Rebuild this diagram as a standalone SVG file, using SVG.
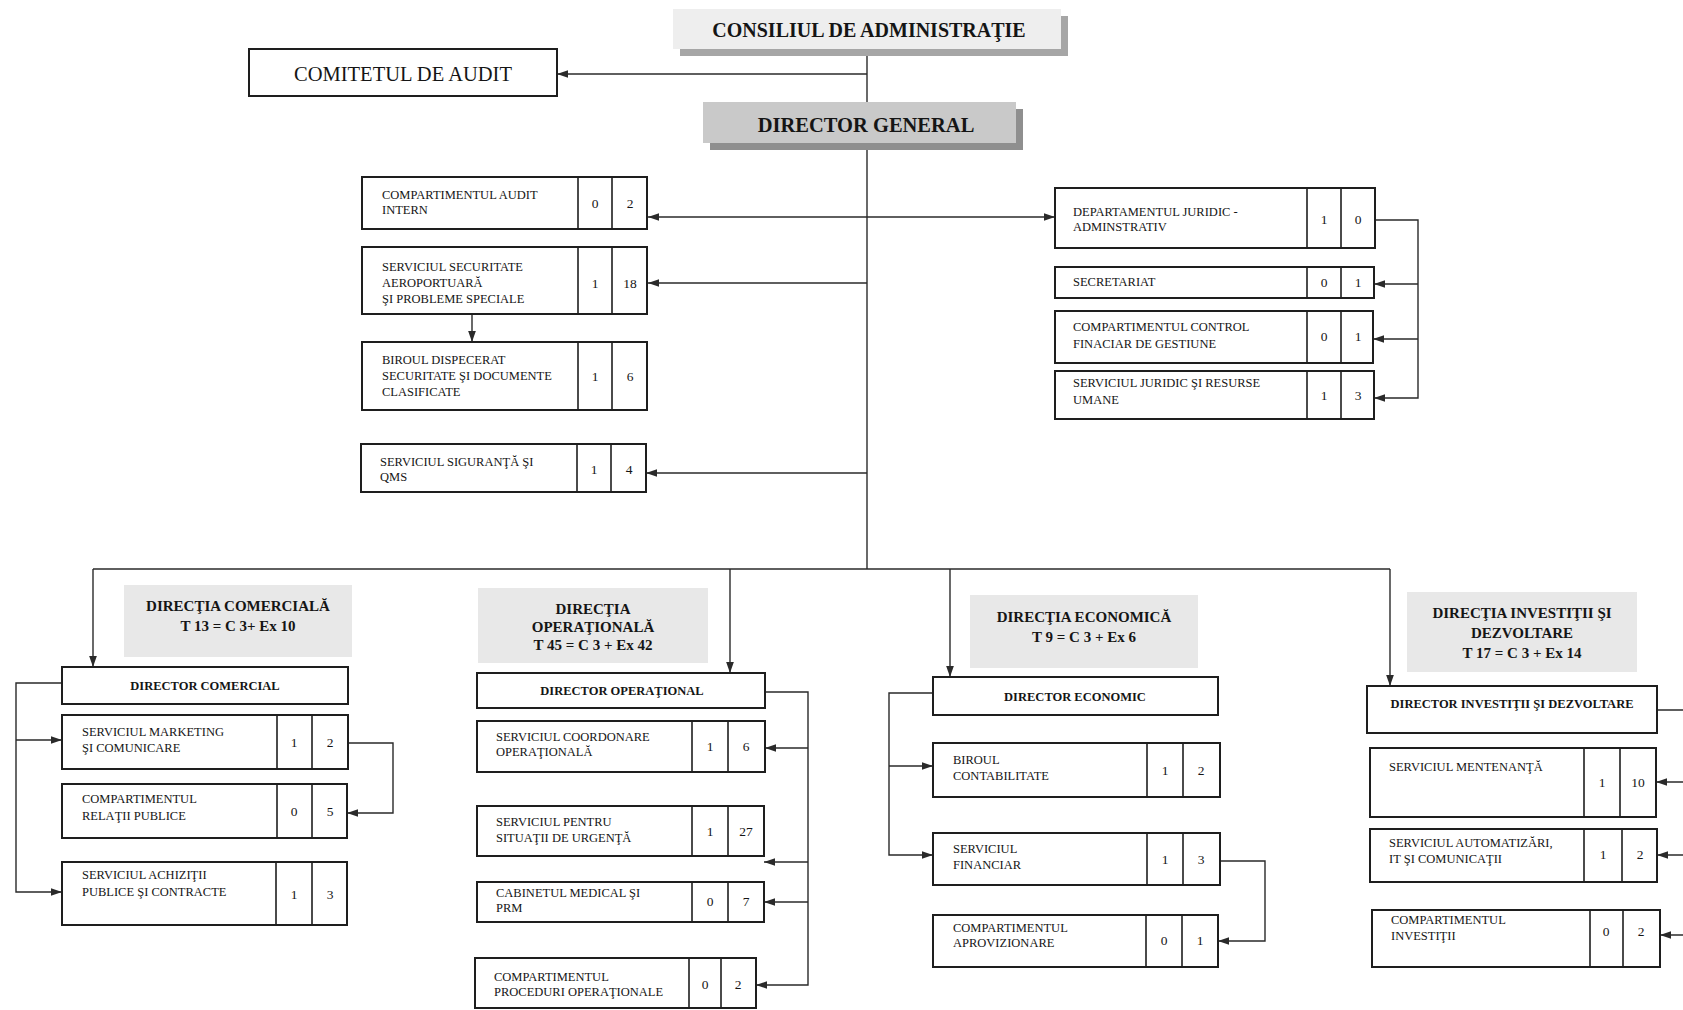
<svg xmlns="http://www.w3.org/2000/svg" width="1683" height="1010" viewBox="0 0 1683 1010">
<style>
.bg{fill:#ffffff}
.box{fill:#ffffff;stroke:#1e1e1e;stroke-width:2}
.div{stroke:#1e1e1e;stroke-width:1.6}
.hd{fill:#e8e8e8}
.t{font-family:"Liberation Serif","Times New Roman",serif;font-size:12.5px;fill:#151515}
.n{font-family:"Liberation Serif","Times New Roman",serif;font-size:13.5px;fill:#151515;text-anchor:middle}
.b{font-weight:bold;text-anchor:middle}
.h{font-family:"Liberation Serif","Times New Roman",serif;font-size:15px;font-weight:bold;fill:#151515;text-anchor:middle}
.c{fill:none;stroke:#2a2a2a;stroke-width:1.4}
</style>
<defs>
<marker id="ah" viewBox="0 0 10 10" refX="10" refY="5" markerWidth="11" markerHeight="11" markerUnits="userSpaceOnUse" orient="auto-start-reverse">
<path d="M0,1.5 L10,5 L0,8.5 z" fill="#2a2a2a"/>
</marker>
</defs>
<rect class="bg" x="0" y="0" width="1683" height="1010"/>

<g id="connectors">
<path class="c" d="M867,48 V102"/>
<path class="c" d="M867,74 H557" marker-end="url(#ah)"/>
<path class="c" d="M867,150 V569"/>
<path class="c" d="M648,217 H1055" marker-start="url(#ah)" marker-end="url(#ah)"/>
<path class="c" d="M867,283 H648" marker-end="url(#ah)"/>
<path class="c" d="M472,314 V342" marker-end="url(#ah)"/>
<path class="c" d="M867,473 H646" marker-end="url(#ah)"/>
<path class="c" d="M1375,220 H1418 V398 H1374" marker-end="url(#ah)"/>
<path class="c" d="M1418,284 H1374" marker-end="url(#ah)"/>
<path class="c" d="M1418,339 H1373" marker-end="url(#ah)"/>
<path class="c" d="M93,569 H1390"/>
<path class="c" d="M93,569 V667" marker-end="url(#ah)"/>
<path class="c" d="M730,569 V673" marker-end="url(#ah)"/>
<path class="c" d="M950,569 V677" marker-end="url(#ah)"/>
<path class="c" d="M1390,569 V686" marker-end="url(#ah)"/>
<path class="c" d="M62,683 H16 V892 H62" marker-end="url(#ah)"/>
<path class="c" d="M16,740 H62" marker-end="url(#ah)"/>
<path class="c" d="M348,743 H393 V813 H347" marker-end="url(#ah)"/>
<path class="c" d="M765,692 H808 V985 H756" marker-end="url(#ah)"/>
<path class="c" d="M808,748 H765" marker-end="url(#ah)"/>
<path class="c" d="M808,862 H764" marker-end="url(#ah)"/>
<path class="c" d="M808,902 H764" marker-end="url(#ah)"/>
<path class="c" d="M933,693 H889 V855 H933" marker-end="url(#ah)"/>
<path class="c" d="M889,766 H933" marker-end="url(#ah)"/>
<path class="c" d="M1220,861 H1265 V941 H1218" marker-end="url(#ah)"/>
<path class="c" d="M1657,710 H1700 V935"/>
<path class="c" d="M1700,782 H1656" marker-end="url(#ah)"/>
<path class="c" d="M1700,855 H1657" marker-end="url(#ah)"/>
<path class="c" d="M1700,935 H1660" marker-end="url(#ah)"/>
</g>

<g id="consiliul">
<rect x="680" y="16" width="388" height="40" fill="#a6a6a6"/>
<rect x="673" y="9" width="388" height="40" fill="#eeeeee"/>
<text class="h" x="869" y="37" style="font-size:20px">CONSILIUL DE ADMINISTRAŢIE</text>
</g>

<g id="comitetul">
<rect class="box" x="249" y="49" width="308" height="47"/>
<text class="t" x="403" y="81" style="font-size:20.5px;text-anchor:middle">COMITETUL DE AUDIT</text>
</g>

<g id="director-general">
<rect x="710" y="109" width="313" height="41" fill="#8f8f8f"/>
<rect x="703" y="102" width="313" height="41" fill="#c9c9c9"/>
<text class="h" x="866" y="132" style="font-size:20.5px">DIRECTOR GENERAL</text>
</g>

<g id="audit-intern">
<rect class="box" x="362" y="177" width="285" height="52"/>
<line class="div" x1="578" y1="177" x2="578" y2="229"/><line class="div" x1="612" y1="177" x2="612" y2="229"/>
<text class="t" x="382" y="199">COMPARTIMENTUL AUDIT</text>
<text class="t" x="382" y="214">INTERN</text>
<text class="n" x="595" y="208">0</text><text class="n" x="630" y="208">2</text>
</g>

<g id="securitate">
<rect class="box" x="362" y="247" width="285" height="67"/>
<line class="div" x1="578" y1="247" x2="578" y2="314"/><line class="div" x1="612" y1="247" x2="612" y2="314"/>
<text class="t" x="382" y="271">SERVICIUL SECURITATE</text>
<text class="t" x="382" y="287">AEROPORTUARĂ</text>
<text class="t" x="382" y="303">ŞI PROBLEME SPECIALE</text>
<text class="n" x="595" y="288">1</text><text class="n" x="630" y="288">18</text>
</g>

<g id="dispecerat">
<rect class="box" x="362" y="342" width="285" height="68"/>
<line class="div" x1="578" y1="342" x2="578" y2="410"/><line class="div" x1="612" y1="342" x2="612" y2="410"/>
<text class="t" x="382" y="364">BIROUL DISPECERAT</text>
<text class="t" x="382" y="380">SECURITATE ŞI DOCUMENTE</text>
<text class="t" x="382" y="396">CLASIFICATE</text>
<text class="n" x="595" y="381">1</text><text class="n" x="630" y="381">6</text>
</g>

<g id="siguranta">
<rect class="box" x="361" y="444" width="285" height="48"/>
<line class="div" x1="577" y1="444" x2="577" y2="492"/><line class="div" x1="611" y1="444" x2="611" y2="492"/>
<text class="t" x="380" y="466">SERVICIUL SIGURANŢĂ ŞI</text>
<text class="t" x="380" y="481">QMS</text>
<text class="n" x="594" y="474">1</text><text class="n" x="629" y="474">4</text>
</g>

<g id="departament-juridic">
<rect class="box" x="1055" y="188" width="320" height="60"/>
<line class="div" x1="1307" y1="188" x2="1307" y2="248"/><line class="div" x1="1341" y1="188" x2="1341" y2="248"/>
<text class="t" x="1073" y="216">DEPARTAMENTUL JURIDIC -</text>
<text class="t" x="1073" y="231">ADMINSTRATIV</text>
<text class="n" x="1324" y="224">1</text><text class="n" x="1358" y="224">0</text>
</g>

<g id="secretariat">
<rect class="box" x="1055" y="267" width="319" height="31"/>
<line class="div" x1="1307" y1="267" x2="1307" y2="298"/><line class="div" x1="1341" y1="267" x2="1341" y2="298"/>
<text class="t" x="1073" y="286">SECRETARIAT</text>
<text class="n" x="1324" y="287">0</text><text class="n" x="1358" y="287">1</text>
</g>

<g id="control-financiar">
<rect class="box" x="1055" y="311" width="318" height="52"/>
<line class="div" x1="1307" y1="311" x2="1307" y2="363"/><line class="div" x1="1341" y1="311" x2="1341" y2="363"/>
<text class="t" x="1073" y="331">COMPARTIMENTUL CONTROL</text>
<text class="t" x="1073" y="348">FINACIAR DE GESTIUNE</text>
<text class="n" x="1324" y="341">0</text><text class="n" x="1358" y="341">1</text>
</g>

<g id="juridic-resurse">
<rect class="box" x="1055" y="371" width="319" height="48"/>
<line class="div" x1="1307" y1="371" x2="1307" y2="419"/><line class="div" x1="1341" y1="371" x2="1341" y2="419"/>
<text class="t" x="1073" y="387">SERVICIUL JURIDIC ŞI RESURSE</text>
<text class="t" x="1073" y="404">UMANE</text>
<text class="n" x="1324" y="400">1</text><text class="n" x="1358" y="400">3</text>
</g>

<g id="directia-comerciala">
<rect class="hd" x="124" y="585" width="228" height="72"/>
<text class="h" x="238" y="611">DIRECŢIA COMERCIALĂ</text>
<text class="h" x="238" y="631">T 13 = C 3+ Ex 10</text>
</g>
<g id="director-comercial">
<rect class="box" x="62" y="667" width="286" height="37"/>
<text class="t b" x="205" y="690">DIRECTOR COMERCIAL</text>
</g>
<g id="marketing">
<rect class="box" x="62" y="715" width="286" height="54"/>
<line class="div" x1="277" y1="715" x2="277" y2="769"/><line class="div" x1="312" y1="715" x2="312" y2="769"/>
<text class="t" x="82" y="736">SERVICIUL MARKETING</text>
<text class="t" x="82" y="752">ŞI COMUNICARE</text>
<text class="n" x="294" y="747">1</text><text class="n" x="330" y="747">2</text>
</g>
<g id="relatii-publice">
<rect class="box" x="62" y="784" width="285" height="54"/>
<line class="div" x1="277" y1="784" x2="277" y2="838"/><line class="div" x1="312" y1="784" x2="312" y2="838"/>
<text class="t" x="82" y="803">COMPARTIMENTUL</text>
<text class="t" x="82" y="820">RELAŢII PUBLICE</text>
<text class="n" x="294" y="816">0</text><text class="n" x="330" y="816">5</text>
</g>
<g id="achizitii">
<rect class="box" x="62" y="862" width="285" height="63"/>
<line class="div" x1="276" y1="862" x2="276" y2="925"/><line class="div" x1="312" y1="862" x2="312" y2="925"/>
<text class="t" x="82" y="879">SERVICIUL  ACHIZIŢII</text>
<text class="t" x="82" y="896">PUBLICE ŞI CONTRACTE</text>
<text class="n" x="294" y="899">1</text><text class="n" x="330" y="899">3</text>
</g>

<g id="directia-operationala">
<rect class="hd" x="478" y="588" width="230" height="75"/>
<text class="h" x="593" y="614">DIRECŢIA</text>
<text class="h" x="593" y="632">OPERAŢIONALĂ</text>
<text class="h" x="593" y="650">T 45 = C 3 + Ex 42</text>
</g>
<g id="director-operational">
<rect class="box" x="477" y="673" width="288" height="35"/>
<text class="t b" x="622" y="695">DIRECTOR OPERAŢIONAL</text>
</g>
<g id="coordonare">
<rect class="box" x="477" y="721" width="288" height="51"/>
<line class="div" x1="692" y1="721" x2="692" y2="772"/><line class="div" x1="728" y1="721" x2="728" y2="772"/>
<text class="t" x="496" y="741">SERVICIUL COORDONARE</text>
<text class="t" x="496" y="756">OPERAŢIONALĂ</text>
<text class="n" x="710" y="751">1</text><text class="n" x="746" y="751">6</text>
</g>
<g id="situatii-urgenta">
<rect class="box" x="477" y="806" width="287" height="50"/>
<line class="div" x1="692" y1="806" x2="692" y2="856"/><line class="div" x1="728" y1="806" x2="728" y2="856"/>
<text class="t" x="496" y="826">SERVICIUL PENTRU</text>
<text class="t" x="496" y="842">SITUAŢII DE URGENŢĂ</text>
<text class="n" x="710" y="836">1</text><text class="n" x="746" y="836">27</text>
</g>
<g id="cabinet-medical">
<rect class="box" x="477" y="882" width="287" height="40"/>
<line class="div" x1="692" y1="882" x2="692" y2="922"/><line class="div" x1="728" y1="882" x2="728" y2="922"/>
<text class="t" x="496" y="897">CABINETUL MEDICAL ŞI</text>
<text class="t" x="496" y="912">PRM</text>
<text class="n" x="710" y="906">0</text><text class="n" x="746" y="906">7</text>
</g>
<g id="proceduri">
<rect class="box" x="475" y="958" width="281" height="50"/>
<line class="div" x1="689" y1="958" x2="689" y2="1008"/><line class="div" x1="721" y1="958" x2="721" y2="1008"/>
<text class="t" x="494" y="981">COMPARTIMENTUL</text>
<text class="t" x="494" y="996">PROCEDURI OPERAŢIONALE</text>
<text class="n" x="705" y="989">0</text><text class="n" x="738" y="989">2</text>
</g>

<g id="directia-economica">
<rect class="hd" x="970" y="595" width="228" height="73"/>
<text class="h" x="1084" y="622">DIRECŢIA ECONOMICĂ</text>
<text class="h" x="1084" y="642">T 9 = C 3 + Ex 6</text>
</g>
<g id="director-economic">
<rect class="box" x="933" y="677" width="285" height="38"/>
<text class="t b" x="1075" y="701">DIRECTOR ECONOMIC</text>
</g>
<g id="contabilitate">
<rect class="box" x="933" y="743" width="287" height="54"/>
<line class="div" x1="1147" y1="743" x2="1147" y2="797"/><line class="div" x1="1183" y1="743" x2="1183" y2="797"/>
<text class="t" x="953" y="764">BIROUL</text>
<text class="t" x="953" y="780">CONTABILITATE</text>
<text class="n" x="1165" y="775">1</text><text class="n" x="1201" y="775">2</text>
</g>
<g id="financiar">
<rect class="box" x="933" y="833" width="287" height="52"/>
<line class="div" x1="1147" y1="833" x2="1147" y2="885"/><line class="div" x1="1183" y1="833" x2="1183" y2="885"/>
<text class="t" x="953" y="853">SERVICIUL</text>
<text class="t" x="953" y="869">FINANCIAR</text>
<text class="n" x="1165" y="864">1</text><text class="n" x="1201" y="864">3</text>
</g>
<g id="aprovizionare">
<rect class="box" x="933" y="915" width="285" height="52"/>
<line class="div" x1="1146" y1="915" x2="1146" y2="967"/><line class="div" x1="1182" y1="915" x2="1182" y2="967"/>
<text class="t" x="953" y="932">COMPARTIMENTUL</text>
<text class="t" x="953" y="947">APROVIZIONARE</text>
<text class="n" x="1164" y="945">0</text><text class="n" x="1200" y="945">1</text>
</g>

<g id="directia-investitii">
<rect class="hd" x="1407" y="592" width="230" height="80"/>
<text class="h" x="1522" y="618">DIRECŢIA INVESTIŢII ŞI</text>
<text class="h" x="1522" y="638">DEZVOLTARE</text>
<text class="h" x="1522" y="658">T 17 = C 3 + Ex 14</text>
</g>
<g id="director-investitii">
<rect class="box" x="1367" y="686" width="290" height="47"/>
<text class="t b" x="1512" y="708">DIRECTOR INVESTIŢII ŞI DEZVOLTARE</text>
</g>
<g id="mentenanta">
<rect class="box" x="1370" y="748" width="286" height="69"/>
<line class="div" x1="1584" y1="748" x2="1584" y2="817"/><line class="div" x1="1620" y1="748" x2="1620" y2="817"/>
<text class="t" x="1389" y="771">SERVICIUL MENTENANŢĂ</text>
<text class="n" x="1602" y="787">1</text><text class="n" x="1638" y="787">10</text>
</g>
<g id="automatizari">
<rect class="box" x="1370" y="829" width="287" height="53"/>
<line class="div" x1="1584" y1="829" x2="1584" y2="882"/><line class="div" x1="1622" y1="829" x2="1622" y2="882"/>
<text class="t" x="1389" y="847">SERVICIUL AUTOMATIZĂRI,</text>
<text class="t" x="1389" y="863">IT ŞI COMUNICAŢII</text>
<text class="n" x="1603" y="859">1</text><text class="n" x="1640" y="859">2</text>
</g>
<g id="comp-investitii">
<rect class="box" x="1372" y="910" width="288" height="57"/>
<line class="div" x1="1590" y1="910" x2="1590" y2="967"/><line class="div" x1="1623" y1="910" x2="1623" y2="967"/>
<text class="t" x="1391" y="924">COMPARTIMENTUL</text>
<text class="t" x="1391" y="940">INVESTIŢII</text>
<text class="n" x="1606" y="936">0</text><text class="n" x="1641" y="936">2</text>
</g>
</svg>
